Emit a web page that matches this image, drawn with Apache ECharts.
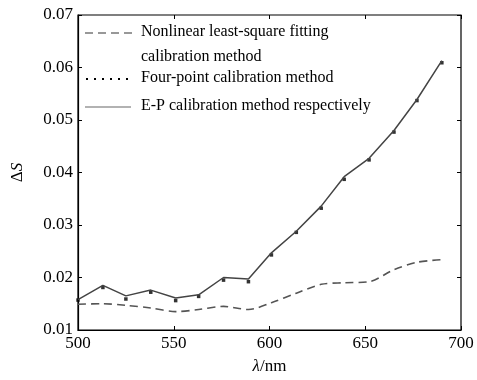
<!DOCTYPE html>
<html><head><meta charset="utf-8">
<script src="https://cdn.jsdelivr.net/npm/echarts@6/dist/echarts.min.js"></script>
<style>html,body{margin:0;padding:0;background:#fff}#c{width:477px;height:380px}</style>
</head><body><div id="c"></div>
<script>
const wavelengths = [500, 513, 525, 538, 551, 563, 576, 589, 601, 614, 627, 639, 652, 665, 677, 690];
const nonlinear   = [0.0149, 0.0150, 0.0147, 0.0142, 0.0135, 0.0139, 0.0145, 0.0139, 0.0152, 0.0170, 0.0187, 0.0190, 0.0192, 0.0215, 0.0229, 0.0234];
const fourPoint   = [0.0157, 0.0181, 0.0159, 0.0172, 0.0156, 0.0164, 0.0195, 0.0192, 0.0243, 0.0286, 0.0332, 0.0387, 0.0424, 0.0477, 0.0537, 0.0609];
const epMethod    = [0.0158, 0.0185, 0.0165, 0.0176, 0.0161, 0.0167, 0.0200, 0.0197, 0.0247, 0.0288, 0.0336, 0.0392, 0.0427, 0.0480, 0.0539, 0.0613];
const xTicks = [500, 550, 600, 650, 700];
const yTicks = [0.01, 0.02, 0.03, 0.04, 0.05, 0.06, 0.07];
const legendLabels = ["Nonlinear least-square fitting", "calibration method", "Four-point calibration method", "E-P calibration method respectively"];

const font = "Liberation Serif";
const pair = arr => wavelengths.map((w, i) => [w, arr[i]]);
const chart = echarts.init(document.getElementById('c'));
const tickCommon = {show: true, inside: true, length: 4, lineStyle: {color: '#000', width: 1}};
const lf = '16px "Liberation Serif"';
chart.setOption({
  animation: false,
  backgroundColor: '#fff',
  grid: {left: 78, right: 16, top: 15, bottom: 40, show: true, borderColor: '#000', borderWidth: 1.2, backgroundColor: 'transparent'},
  xAxis: [{
    type: 'value', min: xTicks[0], max: xTicks[xTicks.length-1], interval: 50,
    axisLine: {show: true, lineStyle: {color: '#000', width: 1.2}},
    axisTick: tickCommon, splitLine: {show: false},
    axisLabel: {color: '#000', fontFamily: font, fontSize: 17, margin: 5},
    name: '{i|λ}/nm', nameLocation: 'middle', nameGap: 28,
    nameTextStyle: {color: '#000', fontFamily: font, fontSize: 17, rich: {i: {fontStyle: 'italic', fontFamily: font, fontSize: 17, color: '#000'}}}
  }, {
    type: 'value', position: 'top', min: xTicks[0], max: xTicks[xTicks.length-1], interval: 50,
    axisLine: {show: false}, axisTick: tickCommon, axisLabel: {show: false}, splitLine: {show: false}
  }],
  yAxis: [{
    type: 'value', min: yTicks[0], max: yTicks[yTicks.length-1], interval: 0.01,
    axisLine: {show: true, lineStyle: {color: '#000', width: 1.2}},
    axisTick: tickCommon, splitLine: {show: false},
    axisLabel: {color: '#000', fontFamily: font, fontSize: 17, margin: 5, formatter: v => v.toFixed(2)},
    name: 'Δ{i|S}', nameLocation: 'middle', nameGap: 52, nameRotate: 90,
    nameTextStyle: {color: '#000', fontFamily: font, fontSize: 17, rich: {i: {fontStyle: 'italic', fontFamily: font, fontSize: 17, color: '#000'}}}
  }, {
    type: 'value', position: 'right', min: yTicks[0], max: yTicks[yTicks.length-1], interval: 0.01,
    axisLine: {show: false}, axisTick: tickCommon, axisLabel: {show: false}, splitLine: {show: false}
  }],
  series: [
    {type: 'line', data: pair(nonlinear), symbol: 'none', smooth: 0.3,
     lineStyle: {color: '#555', width: 1.6, type: [8, 5]}},
    {type: 'line', data: pair(epMethod), symbol: 'none',
     lineStyle: {color: '#444', width: 1.5}},
    {type: 'scatter', data: pair(fourPoint), symbol: 'rect', symbolSize: 3.5,
     itemStyle: {color: '#000'}}
  ],
  graphic: [
    {type: 'line', shape: {x1: 85, y1: 33, x2: 132, y2: 33}, style: {stroke: '#333', lineWidth: 1.2, lineDash: [8, 5]}},
    {type: 'text', left: 141, top: 24, style: {text: legendLabels[0], font: lf, fill: '#000'}},
    {type: 'text', left: 141, top: 49, style: {text: legendLabels[1], font: lf, fill: '#000'}},
    {type: 'line', shape: {x1: 86, y1: 79, x2: 131, y2: 79}, style: {stroke: '#000', lineWidth: 2, lineDash: [2, 6]}},
    {type: 'text', left: 141, top: 70, style: {text: legendLabels[2], font: lf, fill: '#000'}},
    {type: 'line', shape: {x1: 85, y1: 107, x2: 131, y2: 107}, style: {stroke: '#666', lineWidth: 1.2}},
    {type: 'text', left: 141, top: 98, style: {text: legendLabels[3], font: lf, fill: '#000'}}
  ]
});
</script></body></html>
